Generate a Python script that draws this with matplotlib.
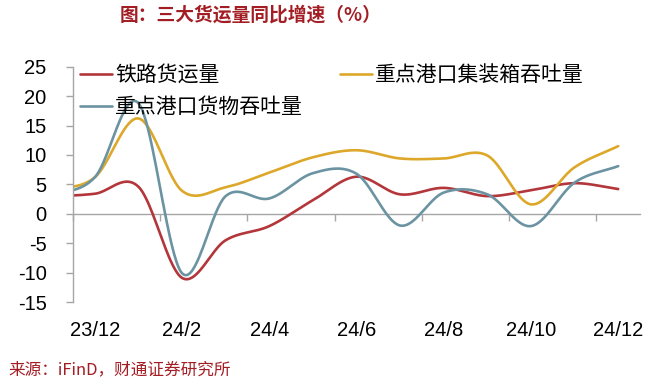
import numpy as np
import matplotlib
matplotlib.use("Agg")
import matplotlib.pyplot as plt

# ---------------- data ----------------
months = ["23/11", "23/12", "24/1", "24/2", "24/3", "24/4", "24/5", "24/6",
          "24/7", "24/8", "24/9", "24/10", "24/11", "24/12"]
rail = [2.9, 3.4, 4.6, -10.9, -4.5, -2.1, 2.3, 6.3, 3.3, 4.4, 3.0, 4.0, 5.2, 4.2]
container = [4.0, 6.2, 16.2, 3.9, 4.5, 7.0, 9.6, 10.8, 9.4, 9.4, 9.9, 1.6, 7.9, 11.5]
cargo = [3.0, 6.2, 18.8, -10.1, 3.0, 2.6, 6.9, 6.8, -2.0, 3.6, 3.3, -2.1, 5.3, 8.1]
series_names = ["铁路货运量", "重点港口集装箱吞吐量", "重点港口货物吞吐量"]
shown_ticks = ["23/12", "24/2", "24/4", "24/6", "24/8", "24/10", "24/12"]
yticks = [-15, -10, -5, 0, 5, 10, 15, 20, 25]

RED = "#B3363B"
GOLD = "#DDA82A"
BLUE = "#6B93A2"
GRAY = "#A6A6A6"
DARKRED = "#A31E24"

plt.rcParams["font.family"] = ["Liberation Sans", "Noto Sans CJK SC", "DejaVu Sans"]
CJK = ["Noto Sans CJK SC", "DejaVu Sans"]


def smooth(xv, yv, steps=40):
    """Catmull-Rom style smoothing (like Excel smoothed lines)."""
    xv = np.asarray(xv, float)
    yv = np.asarray(yv, float)
    n = len(yv)
    m = np.empty(n)
    m[1:-1] = (yv[2:] - yv[:-2]) / 2.0
    m[0] = yv[1] - yv[0]
    m[-1] = yv[-1] - yv[-2]
    t = np.linspace(0, 1, steps, endpoint=False)
    h00 = 2 * t**3 - 3 * t**2 + 1
    h10 = t**3 - 2 * t**2 + t
    h01 = -2 * t**3 + 3 * t**2
    h11 = t**3 - t**2
    xs, ys = [], []
    for i in range(n - 1):
        xs.append(xv[i] + t * (xv[i + 1] - xv[i]))
        ys.append(h00 * yv[i] + h10 * m[i] + h01 * yv[i + 1] + h11 * m[i + 1])
    xs.append([xv[-1]])
    ys.append([yv[-1]])
    return np.concatenate(xs), np.concatenate(ys)


x = np.arange(len(months)) - 1  # 23/12 at 0

fig = plt.figure(figsize=(6.6, 3.84), dpi=100)
ax = fig.add_axes([73 / 660, 1 - 302 / 384, 567 / 660, 235.3 / 384])
ax.set_xlim(-0.5, 12.5)
ax.set_ylim(-15, 25)

lw = 1.9
sx, sy = smooth(x, rail)
l_rail, = ax.plot(sx, sy, color=RED, lw=lw, label=series_names[0], solid_capstyle="round")
sx, sy = smooth(x, container)
l_cont, = ax.plot(sx, sy, color=GOLD, lw=lw, label=series_names[1], solid_capstyle="round")
sx, sy = smooth(x, cargo)
l_cargo, = ax.plot(sx, sy, color=BLUE, lw=lw, label=series_names[2], solid_capstyle="round")

for s in ["top", "right", "bottom"]:
    ax.spines[s].set_visible(False)
ax.spines["left"].set_color(GRAY)
ax.spines["left"].set_linewidth(1.0)

ax.set_yticks(yticks)
ax.set_yticklabels([str(v) for v in yticks])
ax.tick_params(axis="y", direction="out", length=5, width=1.0, color=GRAY,
               pad=14, labelsize=14.5, labelcolor="black")

tick_pos = [months.index(m) - 1 for m in shown_ticks]
ax.set_xticks(tick_pos)
ax.set_xticklabels(shown_ticks)
ax.tick_params(axis="x", length=0, pad=14, labelsize=14.5, labelcolor="black")

# zero-line category axis with boundary tick marks
sec = ax.secondary_xaxis(15 / 40)
sec.set_xticks(np.arange(-0.5, 12, 2))
sec.tick_params(axis="x", direction="out", length=5, width=1.0, color=GRAY,
                labelbottom=False, labeltop=False)
for s in sec.spines:
    sec.spines[s].set_visible(False)
sec.spines["bottom"].set_visible(True)
sec.spines["bottom"].set_color(GRAY)
sec.spines["bottom"].set_linewidth(1.0)

leg = fig.legend(handles=[l_rail, l_cargo, l_cont],
                 labels=[series_names[0], series_names[2], series_names[1]],
                 ncol=2, loc="upper left", bbox_to_anchor=(80 / 660, 1 - 64 / 384),
                 frameon=False, borderpad=0, borderaxespad=0, handlelength=1.55,
                 handletextpad=0.15, columnspacing=1.75, labelspacing=0.5,
                 prop={"family": CJK, "size": 15})

fig.text(251 / 660, 1 - 15 / 384, "图：三大货运量同比增速（%）", ha="center", va="center",
         color=DARKRED, fontsize=13.5, fontweight="bold", family=CJK)
fig.text(8 / 660, 1 - 370 / 384, "来源：iFinD，财通证券研究所", ha="left", va="center",
         color=DARKRED, fontsize=12, family=CJK)

fig.savefig("out.png", dpi=100)
